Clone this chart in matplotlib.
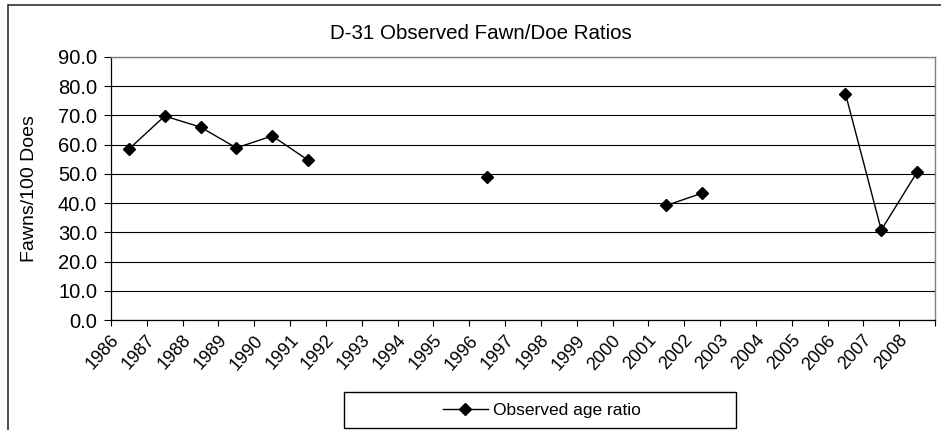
import matplotlib
matplotlib.use("Agg")
import matplotlib.pyplot as plt
import matplotlib.transforms as mtransforms
from matplotlib.patches import Rectangle
import numpy as np

plt.rcParams['font.family'] = ['Liberation Sans', 'DejaVu Sans']

years = [str(y) for y in range(1986, 2009)]
ratios = [58.5, 69.8, 66.0, 58.9, 63.0, 54.7, np.nan, np.nan, np.nan, np.nan,
          49.0, np.nan, np.nan, np.nan, np.nan, 39.2, 43.4, np.nan, np.nan, np.nan,
          77.5, 30.8, 50.6]
y_ticks = [0, 10, 20, 30, 40, 50, 60, 70, 80, 90]
series_name = 'Observed age ratio'

W, H = 941, 430
fig = plt.figure(figsize=(W / 100, H / 100), dpi=100)
ax = fig.add_axes([111 / W, 1 - 320 / H, 824 / W, 263 / H])

x = np.arange(len(years))
ax.plot(x, ratios, color='black', lw=1.0, marker='D', markersize=6,
        markerfacecolor='black', markeredgecolor='black', label=series_name,
        zorder=3, clip_on=False)

# axes / grid
ax.set_ylim(0, 90)
ax.set_xlim(-0.5, len(years) - 0.5)
ax.set_yticks(y_ticks)
ax.set_yticklabels([f'{v:.1f}' for v in y_ticks], fontsize=14.5)
ax.yaxis.grid(True, color='black', lw=0.8)
ax.set_axisbelow(True)
ax.tick_params(axis='y', length=5, width=0.8, pad=5, direction='out')

# ticks between categories, labels centred on categories
ax.set_xticks(np.arange(-0.5, len(years), 1.0))
ax.set_xticklabels([])
ax.set_xticks(x, minor=True)
ax.set_xticklabels(years, minor=True, rotation=48, ha='right', va='top', fontsize=13)
ax.tick_params(axis='x', which='major', length=4, width=0.8, direction='out')
ax.tick_params(axis='x', which='minor', length=0, pad=8.5)
shift = mtransforms.ScaledTranslation(-6 / 100, 0, fig.dpi_scale_trans)
for lbl in ax.get_xticklabels(minor=True):
    lbl.set_transform(lbl.get_transform() + shift)

for side in ['top', 'right']:
    ax.spines[side].set_color('#808080')
    ax.spines[side].set_linewidth(1.0)
for side in ['left', 'bottom']:
    ax.spines[side].set_color('black')
    ax.spines[side].set_linewidth(0.9)

ax.set_ylabel('Fawns/100 Does', fontsize=14, va='center')
ax.yaxis.set_label_coords((30 - 111) / 824, 0.5)

fig.text(481 / W, 1 - 39 / H, 'D-31 Observed Fawn/Doe Ratios', fontsize=14.8,
         ha='center', va='baseline')

# legend, with Excel-style wide box
fig.patches.append(Rectangle((344 / W, 1 - 428 / H), 392 / W, 36 / H,
                             transform=fig.transFigure, fill=False,
                             edgecolor='black', lw=1.0))
fig.legend(loc='center', bbox_to_anchor=(542 / W, 1 - 410 / H), frameon=False,
           fontsize=12.5, handlelength=2.6, handletextpad=0.3)

# outer chart frame
fig.patches.append(Rectangle((8 / W, -0.1), 2.0, 1.1 - 5 / H,
                             transform=fig.transFigure, fill=False,
                             edgecolor='#303030', lw=1.2))

fig.savefig('out.png', dpi=100)
